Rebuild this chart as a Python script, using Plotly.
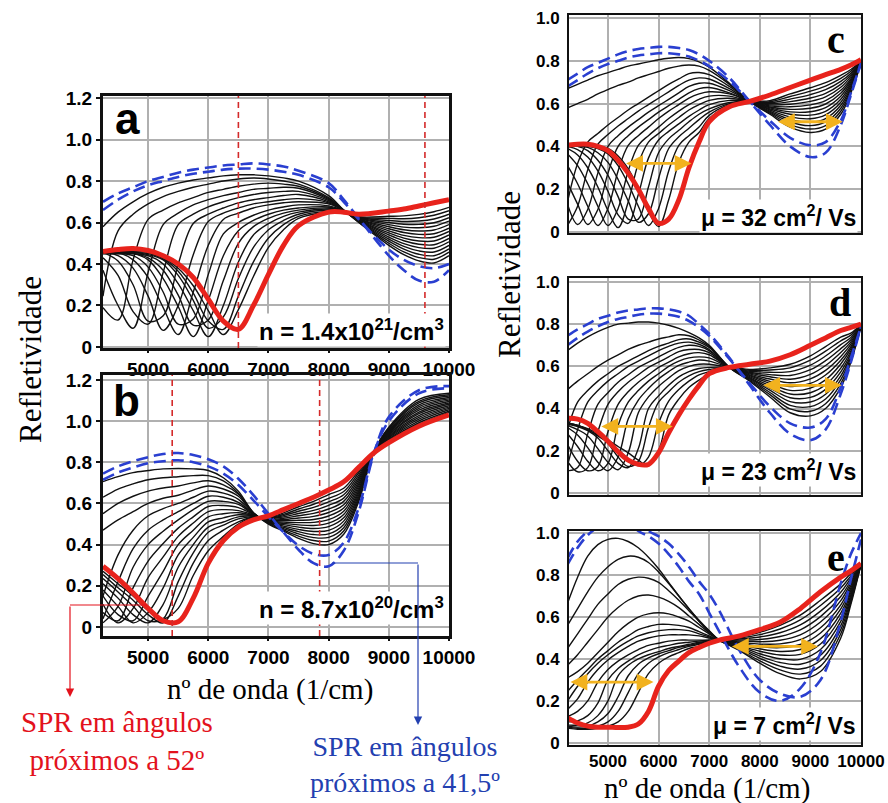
import plotly.graph_objects as go

# ---------------- DATA ----------------
# Panel a : n = 1.4x10^21 /cm3
A_X = [4250, 4500, 4750, 5000, 5250, 5500, 5750, 6000, 6250, 6500, 6750, 7000, 7250, 7500,
       8000, 8250, 8500, 9000, 9250, 9500, 9750, 10000]
A_BLACK = [
    [0.58, 0.65, 0.70, 0.74, 0.77, 0.79, 0.805, 0.815, 0.825, 0.83, 0.83, 0.825, 0.815, 0.80, 0.73, 0.66, 0.60, 0.49, 0.445, 0.415, 0.405, 0.44],
    [0.245, 0.56, 0.64, 0.69, 0.725, 0.75, 0.77, 0.785, 0.80, 0.81, 0.815, 0.81, 0.80, 0.785, 0.72, 0.66, 0.602, 0.50, 0.458, 0.431, 0.423, 0.457],
    [0.19, 0.13, 0.42, 0.615, 0.66, 0.695, 0.72, 0.745, 0.76, 0.775, 0.785, 0.79, 0.785, 0.775, 0.715, 0.659, 0.604, 0.51, 0.472, 0.447, 0.44, 0.473],
    [0.37, 0.20, 0.09, 0.36, 0.59, 0.645, 0.685, 0.71, 0.73, 0.745, 0.76, 0.765, 0.77, 0.765, 0.71, 0.659, 0.606, 0.52, 0.485, 0.463, 0.458, 0.49],
    [0.43, 0.345, 0.17, 0.11, 0.36, 0.59, 0.64, 0.675, 0.70, 0.72, 0.735, 0.745, 0.75, 0.75, 0.705, 0.658, 0.608, 0.53, 0.498, 0.479, 0.476, 0.507],
    [0.455, 0.415, 0.30, 0.125, 0.15, 0.40, 0.595, 0.64, 0.67, 0.695, 0.71, 0.72, 0.73, 0.735, 0.70, 0.658, 0.61, 0.54, 0.512, 0.495, 0.493, 0.523],
    [0.455, 0.44, 0.38, 0.245, 0.08, 0.20, 0.445, 0.605, 0.645, 0.67, 0.69, 0.70, 0.71, 0.715, 0.695, 0.657, 0.612, 0.55, 0.525, 0.511, 0.511, 0.54],
    [0.455, 0.455, 0.42, 0.335, 0.19, 0.06, 0.265, 0.49, 0.615, 0.645, 0.67, 0.685, 0.695, 0.70, 0.69, 0.657, 0.614, 0.56, 0.538, 0.527, 0.529, 0.557],
    [0.45, 0.45, 0.44, 0.385, 0.265, 0.11, 0.135, 0.35, 0.545, 0.60, 0.635, 0.66, 0.675, 0.685, 0.68, 0.656, 0.616, 0.57, 0.552, 0.543, 0.546, 0.573],
    [0.45, 0.45, 0.45, 0.42, 0.33, 0.195, 0.05, 0.225, 0.44, 0.56, 0.61, 0.64, 0.66, 0.67, 0.675, 0.656, 0.618, 0.58, 0.565, 0.559, 0.564, 0.59],
    [0.45, 0.45, 0.45, 0.43, 0.37, 0.25, 0.105, 0.13, 0.32, 0.50, 0.58, 0.62, 0.645, 0.66, 0.67, 0.655, 0.62, 0.59, 0.578, 0.575, 0.582, 0.607],
    [0.455, 0.455, 0.45, 0.44, 0.40, 0.305, 0.175, 0.05, 0.20, 0.41, 0.54, 0.595, 0.63, 0.65, 0.665, 0.655, 0.622, 0.60, 0.592, 0.591, 0.599, 0.623],
    [0.455, 0.455, 0.455, 0.445, 0.42, 0.345, 0.225, 0.09, 0.145, 0.33, 0.48, 0.565, 0.61, 0.64, 0.66, 0.654, 0.624, 0.61, 0.605, 0.607, 0.617, 0.64],
    [0.46, 0.46, 0.455, 0.45, 0.425, 0.365, 0.26, 0.125, 0.085, 0.245, 0.41, 0.525, 0.59, 0.63, 0.655, 0.654, 0.626, 0.62, 0.618, 0.623, 0.635, 0.657],
    [0.46, 0.46, 0.46, 0.455, 0.43, 0.38, 0.295, 0.175, 0.06, 0.18, 0.34, 0.48, 0.565, 0.62, 0.65, 0.653, 0.628, 0.63, 0.632, 0.639, 0.652, 0.673],
]
A_BLUE = [
    [0.70, 0.74, 0.77, 0.80, 0.82, 0.84, 0.855, 0.865, 0.875, 0.88, 0.885, 0.88, 0.87, 0.85, 0.79, 0.71, 0.62, 0.44, 0.37, 0.32, 0.315, 0.37],
    [0.66, 0.71, 0.75, 0.78, 0.80, 0.82, 0.835, 0.845, 0.855, 0.86, 0.86, 0.855, 0.845, 0.83, 0.77, 0.70, 0.615, 0.47, 0.42, 0.39, 0.38, 0.40],
]
A_RED = [0.46, 0.47, 0.475, 0.465, 0.44, 0.40, 0.335, 0.23, 0.125, 0.085, 0.20, 0.35, 0.49, 0.585, 0.65, 0.65, 0.64, 0.655, 0.665, 0.68, 0.695, 0.71]
A_MARKS = [6500, 9600]

# Panel b : n = 8.7x10^20 /cm3
B_X = [4250, 4500, 4750, 5000, 5250, 5500, 5750, 6000, 6250, 6500, 6750, 7000, 7250, 7500,
       7750, 8000, 8250, 8500, 8750, 9000, 9500, 10000]
B_BLACK = [
    [0.706, 0.73, 0.75, 0.76, 0.768, 0.77, 0.768, 0.76, 0.725, 0.66, 0.555, 0.50, 0.465, 0.43, 0.405, 0.40, 0.45, 0.61, 0.85, 0.97, 1.105, 1.135],
    [0.63, 0.67, 0.695, 0.715, 0.725, 0.73, 0.735, 0.735, 0.71, 0.65, 0.555, 0.502, 0.471, 0.441, 0.42, 0.417, 0.466, 0.621, 0.85, 0.965, 1.096, 1.128],
    [0.55, 0.60, 0.635, 0.66, 0.675, 0.685, 0.70, 0.71, 0.69, 0.645, 0.553, 0.505, 0.478, 0.452, 0.434, 0.435, 0.482, 0.631, 0.85, 0.961, 1.088, 1.122],
    [0.47, 0.52, 0.56, 0.60, 0.625, 0.64, 0.665, 0.685, 0.67, 0.635, 0.552, 0.507, 0.484, 0.463, 0.449, 0.452, 0.498, 0.642, 0.85, 0.956, 1.079, 1.115],
    [0.15, 0.35, 0.47, 0.54, 0.575, 0.60, 0.63, 0.66, 0.65, 0.62, 0.55, 0.509, 0.49, 0.474, 0.464, 0.469, 0.514, 0.653, 0.85, 0.951, 1.07, 1.108],
    [0.04, 0.22, 0.38, 0.47, 0.52, 0.56, 0.60, 0.635, 0.63, 0.605, 0.55, 0.512, 0.497, 0.485, 0.478, 0.487, 0.53, 0.663, 0.85, 0.947, 1.062, 1.102],
    [0.02, 0.10, 0.29, 0.40, 0.465, 0.52, 0.57, 0.61, 0.61, 0.595, 0.548, 0.514, 0.503, 0.496, 0.493, 0.504, 0.546, 0.674, 0.85, 0.942, 1.053, 1.095],
    [0.07, 0.03, 0.19, 0.32, 0.405, 0.48, 0.535, 0.585, 0.59, 0.58, 0.546, 0.516, 0.509, 0.507, 0.508, 0.521, 0.562, 0.685, 0.85, 0.937, 1.044, 1.088],
    [0.11, 0.02, 0.09, 0.24, 0.34, 0.44, 0.505, 0.56, 0.57, 0.565, 0.544, 0.519, 0.516, 0.518, 0.522, 0.539, 0.578, 0.695, 0.85, 0.933, 1.036, 1.082],
    [0.15, 0.06, 0.03, 0.15, 0.27, 0.40, 0.47, 0.535, 0.55, 0.555, 0.542, 0.521, 0.522, 0.529, 0.537, 0.556, 0.594, 0.706, 0.85, 0.928, 1.027, 1.075],
    [0.18, 0.10, 0.02, 0.07, 0.19, 0.35, 0.435, 0.51, 0.53, 0.545, 0.54, 0.523, 0.528, 0.54, 0.552, 0.573, 0.61, 0.717, 0.85, 0.923, 1.018, 1.068],
    [0.21, 0.14, 0.06, 0.02, 0.11, 0.29, 0.40, 0.485, 0.51, 0.535, 0.538, 0.526, 0.535, 0.551, 0.566, 0.591, 0.626, 0.727, 0.85, 0.919, 1.01, 1.062],
    [0.235, 0.17, 0.10, 0.03, 0.04, 0.22, 0.36, 0.46, 0.495, 0.525, 0.536, 0.528, 0.541, 0.562, 0.581, 0.608, 0.642, 0.738, 0.85, 0.914, 1.001, 1.055],
    [0.255, 0.19, 0.13, 0.06, 0.02, 0.15, 0.31, 0.42, 0.47, 0.51, 0.534, 0.53, 0.547, 0.573, 0.596, 0.625, 0.658, 0.749, 0.85, 0.909, 0.992, 1.048],
    [0.27, 0.21, 0.15, 0.08, 0.04, 0.09, 0.25, 0.37, 0.44, 0.50, 0.532, 0.533, 0.554, 0.584, 0.61, 0.643, 0.674, 0.759, 0.85, 0.905, 0.984, 1.042],
]
B_BLUE = [
    [0.745, 0.78, 0.805, 0.825, 0.84, 0.845, 0.835, 0.815, 0.78, 0.72, 0.64, 0.55, 0.46, 0.375, 0.31, 0.295, 0.37, 0.56, 0.84, 1.02, 1.15, 1.17],
    [0.715, 0.75, 0.775, 0.795, 0.805, 0.81, 0.80, 0.78, 0.745, 0.69, 0.615, 0.535, 0.46, 0.395, 0.355, 0.35, 0.41, 0.58, 0.845, 1.00, 1.135, 1.16],
]
B_RED = [0.295, 0.235, 0.165, 0.09, 0.03, 0.025, 0.14, 0.31, 0.42, 0.485, 0.52, 0.54, 0.57, 0.60, 0.63, 0.665, 0.705, 0.775, 0.845, 0.895, 0.975, 1.03]
B_MARKS = [5400, 7850]

# Panel c : mu = 32 cm2/Vs
C_X = [4200, 4400, 4600, 4800, 5000, 5200, 5400, 5600, 5800, 6000, 6200, 6400, 6600, 6800,
       7000, 7400, 7800, 8200, 8600, 9000, 9300, 9600, 9800, 10000]
C_BLACK = [
    [0.67, 0.69, 0.71, 0.73, 0.745, 0.76, 0.775, 0.785, 0.795, 0.805, 0.812, 0.815, 0.81, 0.795, 0.77, 0.695, 0.61, 0.55, 0.49, 0.465, 0.48, 0.55, 0.65, 0.79],
    [0.58, 0.60, 0.62, 0.645, 0.665, 0.685, 0.70, 0.72, 0.735, 0.75, 0.765, 0.775, 0.78, 0.775, 0.755, 0.69, 0.61, 0.555, 0.502, 0.481, 0.497, 0.564, 0.658, 0.79],
    [0.14, 0.32, 0.42, 0.46, 0.50, 0.535, 0.57, 0.60, 0.63, 0.66, 0.69, 0.715, 0.74, 0.745, 0.735, 0.68, 0.61, 0.56, 0.514, 0.497, 0.514, 0.578, 0.667, 0.79],
    [0.03, 0.12, 0.29, 0.41, 0.455, 0.495, 0.53, 0.565, 0.595, 0.625, 0.655, 0.685, 0.71, 0.72, 0.715, 0.67, 0.61, 0.565, 0.526, 0.513, 0.53, 0.592, 0.675, 0.79],
    [0.13, 0.035, 0.105, 0.275, 0.40, 0.45, 0.49, 0.525, 0.56, 0.59, 0.62, 0.65, 0.68, 0.695, 0.695, 0.66, 0.61, 0.57, 0.538, 0.529, 0.547, 0.606, 0.684, 0.79],
    [0.23, 0.13, 0.035, 0.105, 0.275, 0.40, 0.45, 0.49, 0.525, 0.56, 0.59, 0.62, 0.65, 0.67, 0.675, 0.65, 0.61, 0.575, 0.55, 0.546, 0.564, 0.62, 0.692, 0.795],
    [0.31, 0.225, 0.12, 0.03, 0.11, 0.285, 0.405, 0.45, 0.49, 0.53, 0.565, 0.595, 0.625, 0.645, 0.655, 0.645, 0.61, 0.58, 0.561, 0.562, 0.581, 0.634, 0.70, 0.795],
    [0.365, 0.31, 0.225, 0.12, 0.03, 0.11, 0.285, 0.405, 0.45, 0.49, 0.53, 0.565, 0.595, 0.62, 0.635, 0.635, 0.61, 0.584, 0.573, 0.578, 0.598, 0.648, 0.709, 0.795],
    [0.39, 0.36, 0.30, 0.21, 0.10, 0.02, 0.14, 0.32, 0.42, 0.46, 0.50, 0.535, 0.57, 0.595, 0.615, 0.625, 0.61, 0.589, 0.585, 0.594, 0.614, 0.662, 0.717, 0.795],
    [0.40, 0.385, 0.35, 0.285, 0.19, 0.08, 0.04, 0.175, 0.345, 0.43, 0.47, 0.505, 0.54, 0.57, 0.595, 0.615, 0.61, 0.594, 0.597, 0.61, 0.631, 0.676, 0.726, 0.795],
    [0.40, 0.40, 0.38, 0.335, 0.265, 0.165, 0.06, 0.06, 0.21, 0.37, 0.435, 0.475, 0.515, 0.55, 0.575, 0.605, 0.61, 0.599, 0.609, 0.626, 0.648, 0.69, 0.734, 0.80],
    [0.40, 0.40, 0.395, 0.37, 0.325, 0.245, 0.145, 0.045, 0.085, 0.25, 0.39, 0.445, 0.485, 0.525, 0.56, 0.60, 0.61, 0.604, 0.621, 0.642, 0.665, 0.704, 0.742, 0.80],
    [0.405, 0.405, 0.40, 0.39, 0.365, 0.31, 0.225, 0.12, 0.03, 0.11, 0.285, 0.405, 0.45, 0.49, 0.545, 0.595, 0.61, 0.609, 0.633, 0.658, 0.682, 0.718, 0.751, 0.80],
    [0.41, 0.41, 0.405, 0.40, 0.39, 0.355, 0.295, 0.205, 0.095, 0.025, 0.15, 0.325, 0.42, 0.465, 0.53, 0.59, 0.61, 0.614, 0.645, 0.674, 0.698, 0.732, 0.759, 0.80],
]
C_BLUE = [
    [0.71, 0.74, 0.77, 0.79, 0.81, 0.83, 0.845, 0.855, 0.86, 0.865, 0.865, 0.86, 0.85, 0.83, 0.80, 0.72, 0.61, 0.50, 0.40, 0.35, 0.37, 0.50, 0.64, 0.79],
    [0.68, 0.71, 0.74, 0.765, 0.785, 0.80, 0.815, 0.825, 0.83, 0.835, 0.835, 0.83, 0.82, 0.80, 0.775, 0.705, 0.61, 0.52, 0.44, 0.405, 0.42, 0.52, 0.65, 0.79],
]
C_RED = [0.405, 0.41, 0.41, 0.40, 0.38, 0.335, 0.275, 0.20, 0.11, 0.04, 0.06, 0.15, 0.30, 0.42, 0.515, 0.585, 0.61, 0.64, 0.675, 0.71, 0.735, 0.76, 0.78, 0.805]
C_ARROWS = [(5330, 6650, 0.32), (8330, 9640, 0.515)]

# Panel d : mu = 23 cm2/Vs
D_X = [4200, 4400, 4600, 4800, 5000, 5200, 5400, 5600, 5800, 6000, 6200, 6400, 6600, 6800,
       7000, 7400, 7800, 8200, 8600, 9000, 9300, 9600, 9800, 10000]
D_BLACK = [
    [0.675, 0.71, 0.74, 0.765, 0.785, 0.80, 0.805, 0.81, 0.81, 0.805, 0.795, 0.78, 0.76, 0.735, 0.70, 0.595, 0.53, 0.455, 0.38, 0.365, 0.40, 0.50, 0.62, 0.79],
    [0.49, 0.53, 0.565, 0.60, 0.63, 0.655, 0.68, 0.70, 0.715, 0.73, 0.74, 0.75, 0.745, 0.725, 0.695, 0.595, 0.534, 0.466, 0.398, 0.387, 0.423, 0.518, 0.631, 0.79],
    [0.30, 0.43, 0.485, 0.53, 0.565, 0.60, 0.625, 0.65, 0.675, 0.695, 0.71, 0.727, 0.73, 0.715, 0.69, 0.595, 0.539, 0.476, 0.415, 0.409, 0.445, 0.537, 0.641, 0.79],
    [0.13, 0.30, 0.43, 0.485, 0.53, 0.565, 0.60, 0.625, 0.65, 0.675, 0.695, 0.71, 0.715, 0.705, 0.68, 0.595, 0.543, 0.487, 0.433, 0.431, 0.468, 0.555, 0.652, 0.79],
    [0.105, 0.12, 0.28, 0.42, 0.475, 0.525, 0.56, 0.595, 0.62, 0.645, 0.67, 0.69, 0.70, 0.695, 0.675, 0.595, 0.547, 0.497, 0.451, 0.453, 0.491, 0.574, 0.662, 0.79],
    [0.15, 0.10, 0.12, 0.29, 0.42, 0.48, 0.525, 0.56, 0.595, 0.62, 0.645, 0.67, 0.68, 0.68, 0.665, 0.595, 0.551, 0.508, 0.469, 0.475, 0.513, 0.592, 0.673, 0.79],
    [0.23, 0.15, 0.105, 0.125, 0.29, 0.42, 0.48, 0.525, 0.56, 0.595, 0.62, 0.645, 0.66, 0.665, 0.655, 0.595, 0.556, 0.519, 0.486, 0.497, 0.536, 0.611, 0.684, 0.795],
    [0.28, 0.22, 0.15, 0.105, 0.14, 0.32, 0.43, 0.485, 0.53, 0.565, 0.60, 0.625, 0.64, 0.645, 0.64, 0.595, 0.56, 0.529, 0.504, 0.519, 0.559, 0.629, 0.694, 0.795],
    [0.31, 0.275, 0.215, 0.145, 0.105, 0.17, 0.35, 0.44, 0.495, 0.54, 0.575, 0.605, 0.62, 0.63, 0.625, 0.595, 0.564, 0.54, 0.522, 0.541, 0.581, 0.647, 0.705, 0.795],
    [0.32, 0.30, 0.27, 0.21, 0.145, 0.11, 0.19, 0.38, 0.455, 0.505, 0.545, 0.58, 0.60, 0.61, 0.61, 0.595, 0.568, 0.551, 0.539, 0.562, 0.604, 0.666, 0.716, 0.795],
    [0.325, 0.315, 0.295, 0.26, 0.20, 0.14, 0.12, 0.21, 0.40, 0.46, 0.51, 0.55, 0.575, 0.59, 0.595, 0.595, 0.572, 0.561, 0.557, 0.584, 0.627, 0.684, 0.726, 0.795],
    [0.33, 0.32, 0.305, 0.28, 0.235, 0.17, 0.125, 0.15, 0.31, 0.43, 0.48, 0.525, 0.555, 0.575, 0.585, 0.595, 0.577, 0.572, 0.575, 0.606, 0.649, 0.703, 0.737, 0.80],
    [0.33, 0.32, 0.30, 0.27, 0.24, 0.205, 0.16, 0.13, 0.17, 0.33, 0.435, 0.49, 0.53, 0.56, 0.575, 0.595, 0.581, 0.583, 0.593, 0.629, 0.672, 0.721, 0.748, 0.80],
    [0.33, 0.32, 0.30, 0.275, 0.25, 0.22, 0.19, 0.155, 0.13, 0.20, 0.37, 0.445, 0.50, 0.535, 0.565, 0.595, 0.585, 0.593, 0.61, 0.65, 0.694, 0.739, 0.758, 0.80],
]
D_BLUE = [
    [0.745, 0.775, 0.80, 0.825, 0.84, 0.855, 0.865, 0.87, 0.875, 0.875, 0.87, 0.86, 0.84, 0.80, 0.755, 0.64, 0.51, 0.38, 0.28, 0.25, 0.30, 0.47, 0.62, 0.79],
    [0.70, 0.735, 0.765, 0.79, 0.81, 0.825, 0.835, 0.845, 0.85, 0.85, 0.845, 0.835, 0.815, 0.785, 0.745, 0.635, 0.52, 0.41, 0.33, 0.31, 0.35, 0.50, 0.64, 0.79],
]
D_RED = [0.354, 0.35, 0.33, 0.29, 0.245, 0.195, 0.155, 0.135, 0.135, 0.19, 0.285, 0.37, 0.445, 0.51, 0.565, 0.595, 0.61, 0.625, 0.655, 0.70, 0.735, 0.77, 0.785, 0.80]
D_ARROWS = [(4840, 6280, 0.315), (8040, 9620, 0.51)]

# Panel e : mu = 7 cm2/Vs
E_X = [4200, 4400, 4600, 4800, 5000, 5200, 5400, 5600, 5800, 6000, 6200, 6400, 6600, 6800,
       7000, 7200, 7600, 8000, 8400, 8800, 9200, 9600, 9800, 10000]
E_BLACK = [
    [0.665, 0.79, 0.89, 0.945, 0.97, 0.975, 0.96, 0.93, 0.885, 0.83, 0.765, 0.70, 0.64, 0.58, 0.53, 0.49, 0.44, 0.38, 0.33, 0.305, 0.34, 0.50, 0.66, 0.85],
    [0.56, 0.64, 0.72, 0.79, 0.84, 0.875, 0.89, 0.885, 0.86, 0.815, 0.76, 0.70, 0.64, 0.585, 0.535, 0.49, 0.445, 0.391, 0.348, 0.328, 0.366, 0.52, 0.671, 0.85],
    [0.45, 0.52, 0.59, 0.66, 0.71, 0.755, 0.78, 0.79, 0.785, 0.765, 0.725, 0.68, 0.63, 0.58, 0.535, 0.49, 0.45, 0.403, 0.366, 0.352, 0.393, 0.54, 0.683, 0.85],
    [0.37, 0.42, 0.48, 0.54, 0.60, 0.645, 0.68, 0.70, 0.705, 0.695, 0.675, 0.645, 0.605, 0.565, 0.525, 0.49, 0.455, 0.414, 0.383, 0.375, 0.418, 0.559, 0.694, 0.85],
    [0.31, 0.34, 0.38, 0.43, 0.48, 0.53, 0.57, 0.60, 0.615, 0.62, 0.615, 0.60, 0.58, 0.55, 0.52, 0.49, 0.46, 0.425, 0.401, 0.398, 0.445, 0.579, 0.705, 0.85],
    [0.245, 0.30, 0.35, 0.40, 0.44, 0.48, 0.51, 0.54, 0.555, 0.565, 0.565, 0.56, 0.55, 0.53, 0.51, 0.49, 0.465, 0.437, 0.419, 0.422, 0.471, 0.599, 0.717, 0.85],
    [0.20, 0.27, 0.33, 0.38, 0.42, 0.455, 0.485, 0.51, 0.525, 0.535, 0.54, 0.54, 0.535, 0.52, 0.505, 0.49, 0.47, 0.448, 0.436, 0.445, 0.497, 0.619, 0.728, 0.85],
    [0.16, 0.21, 0.29, 0.35, 0.395, 0.43, 0.46, 0.485, 0.50, 0.51, 0.515, 0.515, 0.515, 0.51, 0.50, 0.49, 0.475, 0.459, 0.454, 0.469, 0.524, 0.639, 0.739, 0.85],
    [0.125, 0.15, 0.20, 0.29, 0.35, 0.39, 0.42, 0.445, 0.465, 0.475, 0.485, 0.49, 0.49, 0.49, 0.49, 0.49, 0.48, 0.471, 0.472, 0.492, 0.549, 0.658, 0.751, 0.85],
    [0.10, 0.105, 0.13, 0.19, 0.30, 0.355, 0.39, 0.42, 0.44, 0.455, 0.465, 0.475, 0.48, 0.485, 0.49, 0.49, 0.485, 0.482, 0.489, 0.515, 0.576, 0.678, 0.762, 0.85],
    [0.085, 0.085, 0.095, 0.13, 0.20, 0.32, 0.37, 0.40, 0.42, 0.435, 0.45, 0.46, 0.47, 0.48, 0.485, 0.49, 0.49, 0.493, 0.507, 0.539, 0.602, 0.698, 0.773, 0.85],
    [0.08, 0.075, 0.08, 0.10, 0.14, 0.22, 0.32, 0.375, 0.405, 0.425, 0.44, 0.455, 0.465, 0.475, 0.485, 0.49, 0.495, 0.505, 0.525, 0.562, 0.628, 0.718, 0.785, 0.85],
    [0.075, 0.07, 0.07, 0.08, 0.10, 0.15, 0.24, 0.33, 0.38, 0.41, 0.43, 0.445, 0.46, 0.47, 0.48, 0.49, 0.50, 0.516, 0.543, 0.586, 0.655, 0.738, 0.796, 0.85],
    [0.07, 0.065, 0.065, 0.07, 0.08, 0.10, 0.15, 0.24, 0.33, 0.38, 0.41, 0.43, 0.45, 0.46, 0.475, 0.485, 0.504, 0.527, 0.56, 0.609, 0.68, 0.758, 0.807, 0.85],
]
E_BLUE = [
    [0.88, 0.96, 1.01, 1.05, 1.07, 1.08, 1.06, 1.01, 0.985, 0.95, 0.90, 0.84, 0.77, 0.71, 0.62, 0.53, 0.36, 0.24, 0.20, 0.26, 0.43, 0.76, 0.90, 1.0],
    [0.85, 0.93, 0.99, 1.03, 1.06, 1.08, 1.08, 1.06, 1.01, 0.985, 0.95, 0.90, 0.84, 0.77, 0.71, 0.63, 0.44, 0.30, 0.235, 0.22, 0.30, 0.58, 0.78, 0.97],
]
E_RED = [0.12, 0.095, 0.08, 0.075, 0.075, 0.073, 0.075, 0.09, 0.15, 0.27, 0.345, 0.39, 0.43, 0.455, 0.475, 0.49, 0.51, 0.54, 0.575, 0.64, 0.72, 0.79, 0.82, 0.855]
E_ARROWS = [(4230, 5900, 0.29), (7420, 9150, 0.46)]

X_TICKS = [5000, 6000, 7000, 8000, 9000, 10000]
X_TEXT = ["5000", "6000", "7000", "8000", "9000", "10000"]
LEFT_YTICKS = [0, 0.2, 0.4, 0.6, 0.8, 1.0, 1.2]
LEFT_YTEXT = ["0", "0.2", "0.4", "0.6", "0.8", "1.0", "1.2"]
RIGHT_YTICKS = [0, 0.2, 0.4, 0.6, 0.8, 1.0]
RIGHT_YTEXT = ["0", "0.2", "0.4", "0.6", "0.8", "1.0"]

# ---------------- FIGURE ----------------
W, H = 888, 803


def px(v):
    return v / W


def py(v):
    return 1 - v / H


fig = go.Figure()

panels = [
    ("x", "y", A_X, A_BLACK, A_BLUE, A_RED),
    ("x2", "y2", B_X, B_BLACK, B_BLUE, B_RED),
    ("x3", "y3", C_X, C_BLACK, C_BLUE, C_RED),
    ("x4", "y4", D_X, D_BLACK, D_BLUE, D_RED),
    ("x5", "y5", E_X, E_BLACK, E_BLUE, E_RED),
]
RED = "#e8231c"
BLUE = "#2a3fd0"
for xa, ya, X, blacks, blues, red in panels:
    for row in blacks:
        fig.add_trace(go.Scatter(x=X, y=row, mode="lines", xaxis=xa, yaxis=ya,
                                 line=dict(color="#111111", width=1.4, shape="spline", smoothing=1.0),
                                 hoverinfo="skip", showlegend=False))
    for row in blues:
        fig.add_trace(go.Scatter(x=X, y=row, mode="lines", xaxis=xa, yaxis=ya,
                                 line=dict(color=BLUE, width=2.6, dash="12px,6px", shape="spline", smoothing=1.0),
                                 hoverinfo="skip", showlegend=False))
    fig.add_trace(go.Scatter(x=X, y=red, mode="lines", xaxis=xa, yaxis=ya,
                             line=dict(color=RED, width=5, shape="spline", smoothing=1.0),
                             hoverinfo="skip", showlegend=False))

tick_left = dict(family="Liberation Sans, Arial", size=19, color="black", weight="bold")
tick_right = dict(family="Liberation Sans, Arial", size=17, color="black", weight="bold")


def xaxis(dom, rng, anchor, font, show_labels, lw, tcolor, tlen):
    return dict(domain=dom, range=rng, anchor=anchor, tickvals=X_TICKS, ticktext=X_TEXT,
                showticklabels=show_labels, tickfont=font, ticks="outside", ticklen=tlen, tickwidth=2,
                tickcolor=tcolor, automargin=False,
                showgrid=True, gridcolor="#b0b0b0", gridwidth=1.6, zeroline=False,
                showline=True, linecolor="#111111", linewidth=lw, mirror=True)


def yaxis(dom, rng, anchor, font, vals, text, lw, tcolor):
    return dict(domain=dom, range=rng, anchor=anchor, tickvals=vals, ticktext=text,
                tickfont=font, ticks="outside", ticklen=4, tickwidth=2, tickcolor=tcolor,
                automargin=False,
                showgrid=True, gridcolor="#b0b0b0", gridwidth=1.6, zeroline=False,
                showline=True, linecolor="#111111", linewidth=lw, mirror=True)


LX = [px(103), px(449)]
RX = [px(569), px(861)]
CLEAR = "rgba(0,0,0,0)"
fig.update_layout(
    width=W, height=H, autosize=False,
    margin=dict(l=0, r=0, t=0, b=0, pad=0, autoexpand=False),
    paper_bgcolor="white", plot_bgcolor="white", showlegend=False,
    xaxis=xaxis(LX, [4250, 10000], "y", tick_left, True, 3, "#111111", 2),
    yaxis=yaxis([py(348), py(96)], [-0.005, 1.21], "x", tick_left, LEFT_YTICKS, LEFT_YTEXT, 3, "#111111"),
    xaxis2=xaxis(LX, [4250, 10000], "y2", tick_left, True, 3, "#111111", 2),
    yaxis2=yaxis([py(636), py(375)], [-0.044, 1.224], "x2", tick_left, LEFT_YTICKS, LEFT_YTEXT, 3, "#111111"),
    xaxis3=xaxis(RX, [4230, 10000], "y3", tick_right, False, 2, CLEAR, 0),
    yaxis3=yaxis([py(233), py(15)], [-0.005, 1.014], "x3", tick_right, RIGHT_YTICKS, RIGHT_YTEXT, 2, CLEAR),
    xaxis4=xaxis(RX, [4230, 10000], "y4", tick_right, False, 2, CLEAR, 0),
    yaxis4=yaxis([py(495), py(278)], [-0.01, 1.019], "x4", tick_right, RIGHT_YTICKS, RIGHT_YTEXT, 2, CLEAR),
    xaxis5=xaxis(RX, [4230, 10000], "y5", tick_right, True, 2, CLEAR, 0),
    yaxis5=yaxis([py(745), py(531)], [-0.01, 1.01], "x5", tick_right, RIGHT_YTICKS, RIGHT_YTEXT, 2, CLEAR),
)

# red dashed markers in a and b
for xv in A_MARKS:
    fig.add_shape(type="line", xref="x", yref="y domain", x0=xv, x1=xv, y0=0, y1=1,
                  line=dict(color="#d42a2a", width=1.6, dash="6px,4px"))
for xv in B_MARKS:
    fig.add_shape(type="line", xref="x2", yref="y2 domain", x0=xv, x1=xv, y0=0, y1=1,
                  line=dict(color="#d42a2a", width=1.6, dash="6px,4px"))

# orange double arrows
ORANGE = "#f2b21e"
for xa, ya, arrows in (("x3", "y3", C_ARROWS), ("x4", "y4", D_ARROWS), ("x5", "y5", E_ARROWS)):
    for x0, x1, yv in arrows:
        fig.add_annotation(x=x1, y=yv, ax=x0, ay=yv, xref=xa, yref=ya, axref=xa, ayref=ya,
                           text="", showarrow=True, arrowhead=2, arrowside="end+start",
                           arrowsize=1.2, arrowwidth=2.8, arrowcolor=ORANGE)


def label(x0, y0, text, font, angle=0, xanchor="center", bg=None):
    kw = dict(xref="paper", yref="paper", x=px(x0), y=py(y0), text=text, showarrow=False,
              font=font, textangle=angle, xanchor=xanchor, yanchor="middle")
    if bg:
        kw.update(bgcolor=bg, borderpad=1)
    fig.add_annotation(**kw)


# value boxes
box_font = dict(family="Liberation Sans, Arial", size=24, color="black", weight="bold")
label(446, 330, "n = 1.4x10<sup>21</sup>/cm<sup>3</sup>", box_font, xanchor="right", bg="white")
label(446, 608, "n = 8.7x10<sup>20</sup>/cm<sup>3</sup>", box_font, xanchor="right", bg="white")
mu_font = dict(family="Liberation Sans, Arial", size=23, color="black", weight="bold")
label(858, 216, "μ = 32 cm<sup>2</sup>/ Vs", mu_font, xanchor="right", bg="white")
label(858, 470, "μ = 23 cm<sup>2</sup>/ Vs", mu_font, xanchor="right", bg="white")
label(858, 724, "μ = 7 cm<sup>2</sup>/ Vs", mu_font, xanchor="right", bg="white")

# panel letters
let_sans = dict(family="Liberation Sans, Arial", size=44, color="black", weight="bold")
let_serif = dict(family="Liberation Serif, Times New Roman", size=40, color="black", weight="bold")
label(127, 118, "a", let_sans)
label(126, 400, "b", let_sans)
label(836, 40, "c", let_serif)
label(840, 303, "d", let_serif)
label(836, 557, "e", let_serif)

# axis titles
lab_font = dict(family="Liberation Serif, Times New Roman", size=31, color="black")
title_font = dict(family="Liberation Serif, Times New Roman", size=29, color="black")
label(30, 360, "Refletividade", lab_font, angle=-90)
label(509, 275, "Refletividade", lab_font, angle=-90)
label(270, 689, "nº de onda (1/cm)", title_font)
label(707, 788, "nº de onda (1/cm)", title_font)

# SPR callouts
label(117, 741, "SPR em ângulos<br>próximos a 52º",
      dict(family="Liberation Serif, Times New Roman", size=29, color="#e3121c"))
label(405, 764, "SPR em ângulos<br>próximos a 41,5º",
      dict(family="Liberation Serif, Times New Roman", size=28, color="#2340b0"))

fig.add_shape(type="line", xref="paper", yref="paper", x0=px(147), x1=px(70), y0=py(605), y1=py(605),
              line=dict(color="#e3121c", width=1.2))
fig.add_annotation(xref="paper", yref="paper", x=px(70), y=py(697), ax=0, ay=-92, text="", showarrow=True,
                   arrowhead=2, arrowsize=1.4, arrowwidth=1.2, arrowcolor="#e3121c")
fig.add_shape(type="line", xref="paper", yref="paper", x0=px(332), x1=px(418), y0=py(563), y1=py(563),
              line=dict(color="#2340b0", width=1.2))
fig.add_annotation(xref="paper", yref="paper", x=px(418), y=py(725), ax=0, ay=-162, text="", showarrow=True,
                   arrowhead=2, arrowsize=1.4, arrowwidth=1.2, arrowcolor="#2340b0")

PAGE_FIX = ("document.body.style.margin='0';document.body.style.padding='0';"
            "document.documentElement.style.overflow='hidden';"
            "var gd=document.getElementById('{plot_id}');"
            "gd.style.position='absolute';gd.style.left='0px';gd.style.top='0px';")

fig.write_html("out.html", post_script=PAGE_FIX, config={"displayModeBar": False})
